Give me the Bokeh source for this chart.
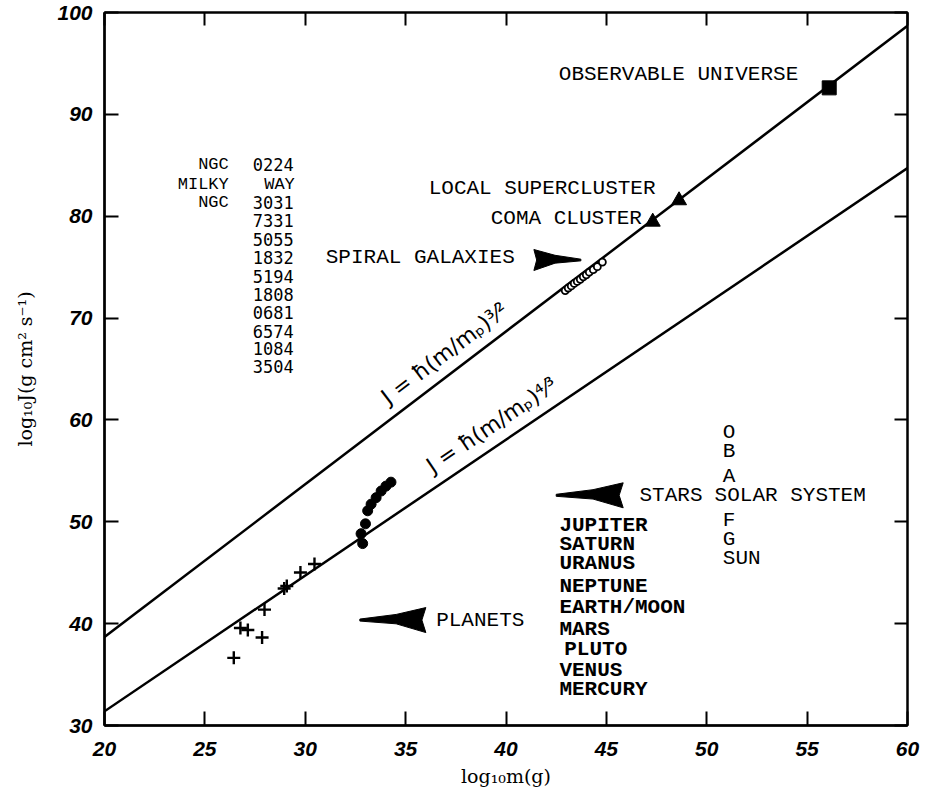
import math
from bokeh.plotting import figure
from bokeh.models import LinearAxis, FixedTicker, CustomJSTickFormatter, Range1d
from bokeh.core.properties import value
from bokeh.embed import file_html
from bokeh.resources import INLINE

# ---------------- data ----------------
LOG_HBAR = -26.977      # log10 of hbar (erg s)
LOG_MP = -23.777        # log10 of proton mass (g)
line_m = [20, 60]
upper_power = 3 / 2
lower_power = 4 / 3

planet_m = [26.44, 26.77, 27.14, 27.85, 27.97, 28.95, 29.08, 29.76, 30.46]
planet_J = [36.64, 39.57, 39.38, 38.64, 41.38, 43.45, 43.70, 45.02, 45.86]

star_m = [32.86, 32.78, 33.00, 33.11, 33.28, 33.53, 33.78, 34.02, 34.27]
star_J = [47.86, 48.83, 49.80, 51.08, 51.73, 52.37, 53.02, 53.50, 53.89]

galaxy_m = [42.95, 43.10, 43.25, 43.40, 43.55, 43.70, 43.85, 44.00, 44.15, 44.35, 44.55, 44.80]
galaxy_J = [72.70, 72.95, 73.15, 73.40, 73.60, 73.80, 74.05, 74.25, 74.50, 74.75, 75.05, 75.50]

cluster_m = [47.31, 48.62]
cluster_J = [79.45, 81.55]

universe_m = [56.1]
universe_J = [92.6]

x_ticks = [20, 25, 30, 35, 40, 45, 50, 55, 60]
y_ticks = [30, 40, 50, 60, 70, 80, 90, 100]

ngc_left = ["NGC", "MILKY", "NGC"]
ngc_right = ["0224", "WAY", "3031", "7331", "5055", "1832", "5194", "1808",
             "0681", "6574", "1084", "3504"]
planet_names = ["JUPITER", "SATURN", "URANUS", "NEPTUNE", "EARTH/MOON", "MARS",
                "PLUTO", "VENUS", "MERCURY"]
spectral = ["O", "B", "A", "F", "G", "SUN"]

# ---------------- figure ----------------
W, H = 927, 791
BL, BR, BT, BB = 104, 20, 12, 66
X0, X1, Y0, Y1 = 20, 60, 30, 100
sx = (W - BL - BR) / (X1 - X0)   # px per unit
sy = (H - BT - BB) / (Y1 - Y0)

p = figure(width=W, height=H, x_range=Range1d(X0, X1), y_range=Range1d(Y0, Y1),
           output_backend="svg", toolbar_location=None,
           min_border_left=BL, min_border_right=BR, min_border_top=BT, min_border_bottom=BB,
           background_fill_color="white", border_fill_color="white")
p.grid.visible = False
p.outline_line_color = "black"
p.outline_line_width = 2

xa = p.below[0]
ya = p.left[0]
xa.ticker = FixedTicker(ticks=x_ticks)
ya.ticker = FixedTicker(ticks=y_ticks)
for ax in (xa, ya):
    ax.major_tick_in = 14
    ax.major_tick_out = 0
    ax.minor_tick_line_color = None
    ax.axis_line_width = 2.5
    ax.major_tick_line_width = 2
    ax.major_label_text_font = "Liberation Sans"
    ax.major_label_text_font_style = "bold italic"
    ax.major_label_text_font_size = "21px"
    ax.major_label_text_color = "black"
    ax.axis_label_text_font = "DejaVu Serif"
    ax.axis_label_text_font_style = "normal"
    ax.axis_label_text_font_size = "19px"
    ax.axis_label_text_color = "black"
xa.major_label_standoff = 16
ya.major_label_standoff = 12
xa.axis_label = "log₁₀m(g)"
ya.axis_label = "log₁₀J(g cm² s⁻¹)"
xa.axis_label_standoff = 6
ya.axis_label_standoff = 18

blank = CustomJSTickFormatter(code="return ''")
right_ax = LinearAxis(ticker=FixedTicker(ticks=y_ticks), formatter=blank,
                      major_tick_in=13, major_tick_out=0, minor_tick_line_color=None,
                      major_label_standoff=0, major_label_text_font_size="0px",
                      axis_line_width=2, major_tick_line_width=2)
top_ax = LinearAxis(ticker=FixedTicker(ticks=x_ticks), formatter=blank,
                    major_tick_in=13, major_tick_out=0, minor_tick_line_color=None,
                    major_label_standoff=0, major_label_text_font_size="0px",
                    axis_line_width=2, major_tick_line_width=2)
p.add_layout(right_ax, "right")
p.add_layout(top_ax, "above")

# ---------------- theory lines ----------------
def theory(m, power):
    return LOG_HBAR + power * (m - LOG_MP)

p.line(line_m, [theory(m, upper_power) for m in line_m], line_color="black", line_width=2.5)
p.line(line_m, [theory(m, lower_power) for m in line_m], line_color="black", line_width=2.5)

# ---------------- data marks ----------------
p.scatter(planet_m, planet_J, marker="cross", size=13, line_color="black", line_width=2.4)
p.scatter(star_m, star_J, marker="circle", size=10, fill_color="black", line_color="black")
p.scatter(galaxy_m, galaxy_J, marker="circle", size=7, fill_color="white",
          line_color="black", line_width=1.8)
p.scatter(cluster_m, cluster_J, marker="triangle", size=15, fill_color="black", line_color="black")
p.scatter(universe_m, universe_J, marker="square", size=14, fill_color="black", line_color="black")

# ---------------- arrows ----------------
def arrow(tip_x, tip_y, direction, length_px, half_px):
    L = length_px / sx * direction
    h = half_px / sy
    xs = [tip_x, tip_x - L * 0.55, tip_x - L, tip_x - L * 0.94, tip_x - L, tip_x - L * 0.55, tip_x]
    ys = [tip_y + 0.08 * h, tip_y + 0.45 * h, tip_y + h, tip_y, tip_y - h, tip_y - 0.3 * h, tip_y - 0.08 * h]
    p.patch(xs, ys, fill_color="black", line_color="black", line_width=1)

arrow(43.73, 75.70, +1, 47, 10.5)   # spiral galaxies
arrow(42.50, 52.60, -1, 67, 12.5)   # stars
arrow(32.72, 40.35, -1, 66, 12.5)   # planets

# ---------------- text ----------------
mono = value("Liberation Mono")

def label(x, y, txt, size="21px", align="left", font=mono, style="normal", angle=0.0,
          baseline="middle"):
    p.text(x=[x], y=[y], text=[txt], text_font=font, text_font_size=size,
           text_align=align, text_baseline=baseline, text_color="black",
           text_font_style=style, angle=angle)

label(42.63, 93.9, "OBSERVABLE UNIVERSE")
label(36.15, 82.7, "LOCAL SUPERCLUSTER")
label(39.24, 79.8, "COMA CLUSTER")
label(31.02, 75.9, "SPIRAL GALAXIES")
label(46.65, 52.62, "STARS")
label(50.39, 52.62, "SOLAR SYSTEM")
label(36.52, 40.28, "PLANETS")

spec_y = [58.81, 56.88, 54.46, 50.11, 48.27, 46.44]
for t, yy in zip(spectral, spec_y):
    label(50.80, yy, t)

plan_y = [49.63, 47.76, 45.92, 43.66, 41.57, 39.47, 37.44, 35.44, 33.51]
for t, yy in zip(planet_names, plan_y):
    label(42.9 if t == "PLUTO" else 42.66, yy, t, style="bold")

ngc_y = [85.08, 83.15, 81.37, 79.60, 77.67, 75.90, 74.12, 72.35, 70.58, 68.64, 67.03, 65.26]
for t, yy in zip(ngc_left, ngc_y):
    label(26.19, yy, t, size="17px", align="right")
for t, yy in zip(ngc_right, ngc_y):
    if t == "WAY":
        label(29.48, yy, t, size="17px", align="right")
    else:
        label(27.39, yy, t, size="17px", font=value("DejaVu Sans Mono"))

# formulas along the lines
ang_u = math.atan(upper_power * sy / sx)
ang_l = math.atan(lower_power * sy / sx)
fx_u = 34.3
label(fx_u, theory(fx_u, upper_power) + 0.9, "J = ħ(m/mₚ)³⁄²", size="22px",
      font=value("DejaVu Sans"), angle=ang_u, baseline="bottom")
fx_l = 36.5
label(fx_l, theory(fx_l, lower_power) + 0.9, "J = ħ(m/mₚ)⁴⁄³", size="22px",
      font=value("DejaVu Sans"), angle=ang_l, baseline="bottom")

open("out.html", "w").write(file_html(p, INLINE))
